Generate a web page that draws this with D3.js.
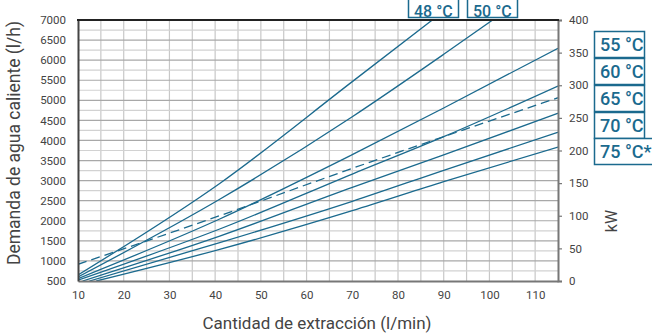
<!DOCTYPE html>
<html><head><meta charset="utf-8">
<script src="https://cdn.jsdelivr.net/npm/d3@7"></script>
<style>
html,body{margin:0;padding:0;background:#fff;}
svg{display:block;}
text{font-family:Roboto,"DejaVu Sans",sans-serif;}
</style></head>
<body><svg id="c" width="652" height="336"></svg>
<script>
// ---- data ----
const xTicks = [10,20,30,40,50,60,70,80,90,100,110];
const yTicks = [500,1000,1500,2000,2500,3000,3500,4000,4500,5000,5500,6000,6500,7000];
const kwTicks = [0,50,100,150,200,250,300,350,400];
const seriesNames = ["48 °C","50 °C","55 °C","60 °C","65 °C","70 °C","75 °C*"];
const s48 = [[10,650],[41,2930],[70,5465],[87.5,7000]];
const s50 = [[10,600],[41,2535],[70,4592],[90,6146],[100.7,7000]];
const s55 = [[10,560],[41,2044],[70,3646],[90,4809],[115,6296]];
const s60 = [[10,520],[41,1795],[70,3164],[90,4094],[115,5357]];
const s65 = [[11,500],[41,1620],[70,2833],[90,3639],[115,4676]];
const s70 = [[12.5,500],[41,1454],[70,2484],[90,3257],[115,4203]];
const s75 = [[14,500],[41,1288],[70,2250],[90,2973],[115,3837]];
const sDashed = [[10,916],[41,2126],[70,3305],[90,4094],[115,5065]];
const solidSeries = [s48,s50,s55,s60,s65,s70,s75];

// ---- layout ----
const L=78,R=558,T=20,B=281;
const x = d3.scaleLinear().domain([10,115]).range([L,R]);
const y = d3.scaleLinear().domain([500,7000]).range([B,T]);
const yk = d3.scaleLinear().domain([0,400]).range([B,T]);
const blue = "#1b6a8e";
const svg = d3.select("#c");

// grid
const g = svg.append("g");
g.selectAll(".vg").data(d3.range(15,115,5)).join("line")
  .attr("x1",d=>x(d)).attr("x2",d=>x(d)).attr("y1",T).attr("y2",B)
  .attr("stroke","#c8c8c8").attr("stroke-width",1.2);
g.selectAll(".hg").data(d3.range(750,7000,250)).join("line")
  .attr("x1",L).attr("x2",R).attr("y1",d=>y(d)).attr("y2",d=>y(d))
  .attr("stroke",d=>d%500===0?"#a8a8a8":"#d2d2d2").attr("stroke-width",1.2);

// lines
svg.append("clipPath").attr("id","pc").append("rect")
  .attr("x",L).attr("y",T).attr("width",R-L).attr("height",B-T);
const line = d3.line().x(d=>x(d[0])).y(d=>y(d[1])).curve(d3.curveMonotoneX);
const lg = svg.append("g").attr("clip-path","url(#pc)");
lg.selectAll(".s").data(solidSeries).join("path")
  .attr("d",line).attr("fill","none").attr("stroke",blue).attr("stroke-width",1.3);
lg.append("path").datum(sDashed).attr("d",line).attr("fill","none")
  .attr("stroke",blue).attr("stroke-width",1.3).attr("stroke-dasharray","9,5");

// axes
const fmt = d3.format("d");
const ax = svg.append("g").attr("transform",`translate(0,${B})`)
  .call(d3.axisBottom(x).tickValues(xTicks).tickFormat(fmt).tickSize(0).tickPadding(10));
const ay = svg.append("g").attr("transform",`translate(${L},0)`)
  .call(d3.axisLeft(y).tickValues(yTicks).tickFormat(fmt).tickSize(0).tickPadding(12));
const ak = svg.append("g").attr("transform",`translate(${R},0)`)
  .call(d3.axisRight(yk).tickValues(kwTicks).tickFormat(fmt).tickSize(4).tickPadding(7));
[ax,ay,ak].forEach(a=>{
  a.selectAll("text").attr("fill","#444").attr("font-size","11.5px")
   .attr("font-family",'Roboto,"DejaVu Sans",sans-serif');
  a.select(".domain").attr("stroke","#777").attr("stroke-width",2);
  a.selectAll(".tick line").attr("stroke","#777").attr("stroke-width",1.2);
});
ay.select(".domain").attr("stroke","#444");
// top border
svg.append("line").attr("x1",L-1).attr("x2",R+1).attr("y1",T).attr("y2",T)
  .attr("stroke","#222").attr("stroke-width",2);

// titles
svg.append("text").attr("transform","translate(20,143) rotate(-90)")
  .attr("text-anchor","middle").attr("font-size","17.5px").attr("fill","#444")
  .text("Demanda de agua caliente (l/h)");
svg.append("text").attr("x",317).attr("y",329)
  .attr("text-anchor","middle").attr("font-size","17px").attr("fill","#444")
  .text("Cantidad de extracción (l/min)");
svg.append("text").attr("transform","translate(617,221) rotate(-90)")
  .attr("text-anchor","middle").attr("font-size","16px").attr("fill","#444")
  .text("kW");

// series labels (boxes)
const boxes = [
  {n:seriesNames[0],x:408,y:-9,w:50,fs:16,ty:26},
  {n:seriesNames[1],x:467,y:-9,w:50,fs:16,ty:26},
  {n:seriesNames[2],x:594,y:31,w:50,fs:18,ty:20},
  {n:seriesNames[3],x:594,y:58,w:50,fs:18,ty:20},
  {n:seriesNames[4],x:594,y:85,w:50,fs:18,ty:20},
  {n:seriesNames[5],x:594,y:112,w:50,fs:18,ty:20},
  {n:seriesNames[6],x:594,y:138,w:64,fs:18,ty:20}
];
const bg = svg.append("g").selectAll("g").data(boxes).join("g");
bg.append("rect").attr("x",d=>d.x+0.5).attr("y",d=>d.y+0.5).attr("width",d=>d.w).attr("height",26)
  .attr("fill","#fff").attr("stroke",blue).attr("stroke-width",1.5);
bg.append("text").attr("x",d=>d.x+6).attr("y",d=>d.y+d.ty)
  .attr("font-size",d=>d.fs+"px").attr("font-weight",500).attr("fill",blue)
  .text(d=>d.n);
</script></body></html>
